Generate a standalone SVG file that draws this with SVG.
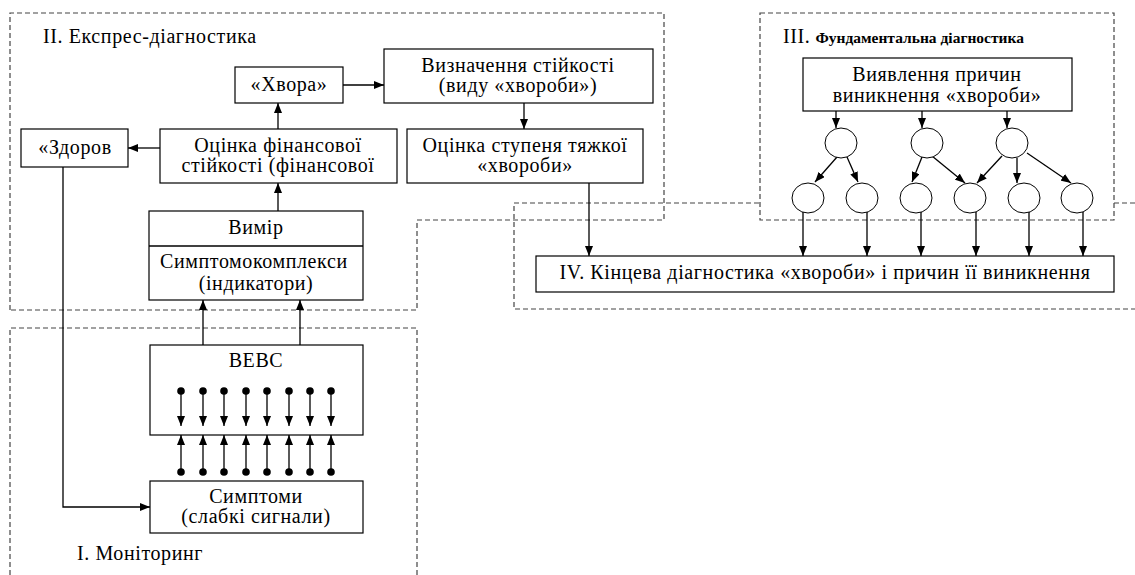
<svg xmlns="http://www.w3.org/2000/svg" width="1135" height="575" viewBox="0 0 1135 575">
<defs>
<marker id="ah" markerWidth="10" markerHeight="8" refX="10" refY="4" orient="auto" markerUnits="userSpaceOnUse"><path d="M0,0 L10,4 L0,8 z" fill="#000"/></marker>
<style>
.reg{fill:none;stroke:#444;stroke-width:1.2;stroke-dasharray:5,3}
.regw{fill:#fff;stroke:#444;stroke-width:1.2;stroke-dasharray:5,3}
.box{fill:#fff;stroke:#000;stroke-width:1.2}
.t{font-family:"Liberation Serif","Times New Roman",serif;font-size:20px;letter-spacing:0.6px;fill:#000;text-anchor:middle}
.ts{font-family:"Liberation Serif","Times New Roman",serif;font-size:20px;letter-spacing:0.6px;fill:#000}
.c{stroke:#000;stroke-width:1.3;fill:none;marker-end:url(#ah)}
.l{stroke:#000;stroke-width:1.3;fill:none}
.e{fill:#fff;stroke:#000;stroke-width:1}
.d{fill:#000}
</style>
</defs>
<rect width="1135" height="575" fill="#fff"/>

<g id="regions">
<path class="reg" d="M1135,203 H514 V309 H1135"/>
<path class="reg" d="M10,310 V13 H664 V220 H417 V310 Z"/>
<path class="reg" d="M10,575 V328 H417 V575"/>
<rect class="regw" x="760" y="13" width="354" height="207"/>
<text class="ts" x="43" y="43">II. Експрес-діагностика</text>
<text class="ts" x="77" y="560">I. Моніторинг</text>
<text class="ts" x="783" y="43">III.<tspan font-size="15.5" font-weight="bold" letter-spacing="0" dx="5">Фундаментальна діагностика</tspan></text>
</g>

<g id="connectors">
<path class="c" d="M343,85 H384"/>
<path class="c" d="M524,103 V129"/>
<path class="c" d="M278,129 V103"/>
<path class="c" d="M160,148 H128"/>
<path class="c" d="M278,211 V183"/>
<path class="c" d="M203,345 V300"/>
<path class="c" d="M300,345 V300"/>
<path class="c" d="M63,167 V507 H150"/>
<path class="c" d="M589,183 V256"/>
<path class="c" d="M836,111 V128"/>
<path class="c" d="M922,111 V128"/>
<path class="c" d="M1007,111 V128"/>
<path class="c" d="M837,157 L815,182"/>
<path class="c" d="M847,157 L858,182"/>
<path class="c" d="M922,157 L912,182"/>
<path class="c" d="M932,156 L965,183"/>
<path class="c" d="M1002,156 L977,183"/>
<path class="c" d="M1017,158 V183"/>
<path class="c" d="M1027,153 L1071,183"/>
<path class="c" d="M803,212 V256"/>
<path class="c" d="M867,211 V256"/>
<path class="c" d="M921,211 V256"/>
<path class="c" d="M976,211 V256"/>
<path class="c" d="M1029,211 V256"/>
<path class="c" d="M1083,211 V256"/>
</g>

<g id="n-khvora"><rect class="box" x="235" y="67" width="108" height="36"/><text class="t" x="289" y="91">«Хвора»</text></g>
<g id="n-vyznachennia"><rect class="box" x="384" y="49" width="269" height="54"/><text class="t" x="518" y="72">Визначення стійкості</text><text class="t" x="518" y="92">(виду «хвороби»)</text></g>
<g id="n-stupenia"><rect class="box" x="407" y="129" width="236" height="54"/><text class="t" x="525" y="152">Оцінка ступеня тяжкої</text><text class="t" x="525" y="172">«хвороби»</text></g>
<g id="n-fin"><rect class="box" x="160" y="129" width="237" height="54"/><text class="t" x="278" y="152">Оцінка фінансової</text><text class="t" x="278" y="172">стійкості (фінансової</text></g>
<g id="n-zdorov"><rect class="box" x="21" y="129" width="107" height="38"/><text class="t" x="75" y="154">«Здоров</text></g>
<g id="n-vymir"><rect class="box" x="149" y="211" width="214" height="89"/><line class="l" x1="149" y1="246" x2="363" y2="246"/><text class="t" x="256" y="234">Вимір</text><text class="ts" x="160" y="268" letter-spacing="0">Симптомокомплекси</text><text class="t" x="256" y="290">(індикатори)</text></g>
<g id="n-vevs"><rect class="box" x="150" y="345" width="213" height="90"/><text class="t" x="256" y="367">ВЕВС</text></g>
<g id="n-symptomy"><rect class="box" x="150" y="481" width="213" height="52"/><text class="t" x="256" y="503">Симптоми</text><text class="t" x="256" y="523">(слабкі сигнали)</text></g>

<g id="signals">
<path class="c" d="M181,391 V426"/><path class="c" d="M203,391 V426"/><path class="c" d="M224,391 V426"/><path class="c" d="M246,391 V426"/>
<path class="c" d="M267,391 V426"/><path class="c" d="M289,391 V426"/><path class="c" d="M310,391 V426"/><path class="c" d="M331,391 V426"/>
<path class="c" d="M181,472 V435"/><path class="c" d="M203,472 V435"/><path class="c" d="M224,472 V435"/><path class="c" d="M246,472 V435"/>
<path class="c" d="M267,472 V435"/><path class="c" d="M289,472 V435"/><path class="c" d="M310,472 V435"/><path class="c" d="M331,472 V435"/>
<circle class="d" cx="181" cy="391" r="3.8"/><circle class="d" cx="203" cy="391" r="3.8"/><circle class="d" cx="224" cy="391" r="3.8"/><circle class="d" cx="246" cy="391" r="3.8"/>
<circle class="d" cx="267" cy="391" r="3.8"/><circle class="d" cx="289" cy="391" r="3.8"/><circle class="d" cx="310" cy="391" r="3.8"/><circle class="d" cx="331" cy="391" r="3.8"/>
<circle class="d" cx="181" cy="472" r="3.8"/><circle class="d" cx="203" cy="472" r="3.8"/><circle class="d" cx="224" cy="472" r="3.8"/><circle class="d" cx="246" cy="472" r="3.8"/>
<circle class="d" cx="267" cy="472" r="3.8"/><circle class="d" cx="289" cy="472" r="3.8"/><circle class="d" cx="310" cy="472" r="3.8"/><circle class="d" cx="331" cy="472" r="3.8"/>
</g>

<g id="n-vyiavlennia"><rect class="box" x="803" y="58" width="269" height="53"/><text class="t" x="937" y="81">Виявлення причин</text><text class="t" x="937" y="102">виникнення «хвороби»</text></g>

<g id="n-causes">
<ellipse class="e" cx="841" cy="143" rx="16" ry="15"/>
<ellipse class="e" cx="927" cy="143" rx="16" ry="15"/>
<ellipse class="e" cx="1012" cy="143" rx="16" ry="15"/>
<ellipse class="e" cx="808" cy="198" rx="16" ry="15"/>
<ellipse class="e" cx="862" cy="198" rx="16" ry="15"/>
<ellipse class="e" cx="916" cy="198" rx="16" ry="15"/>
<ellipse class="e" cx="970" cy="198" rx="16" ry="15"/>
<ellipse class="e" cx="1024" cy="198" rx="16" ry="15"/>
<ellipse class="e" cx="1077" cy="198" rx="16" ry="15"/>
</g>

<g id="n-final"><rect class="box" x="536" y="256" width="578" height="36"/><text class="t" x="825" y="279">IV. Кінцева діагностика «хвороби» і причин її виникнення</text></g>
</svg>
